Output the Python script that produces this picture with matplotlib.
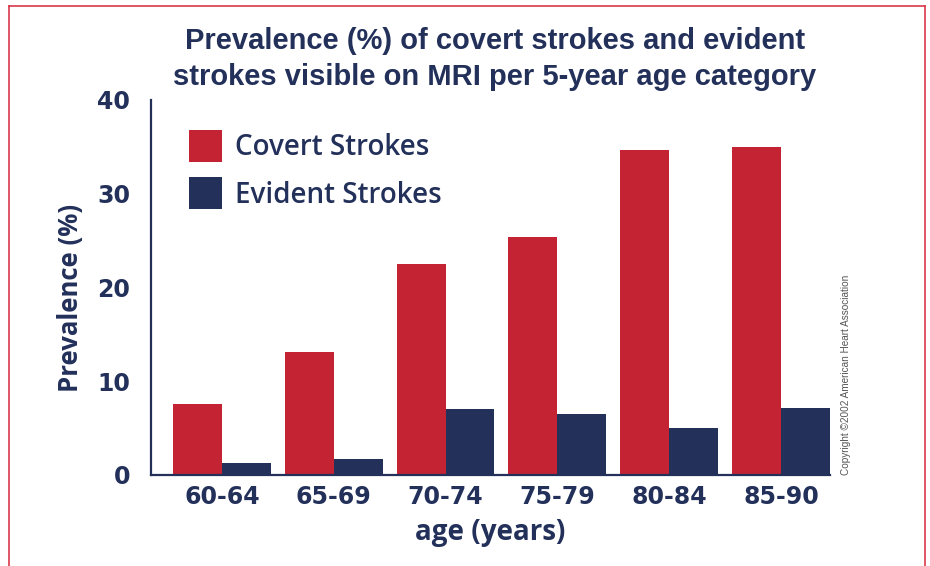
import matplotlib
matplotlib.use("Agg")
import matplotlib.pyplot as plt
import numpy as np
from matplotlib.lines import Line2D
from matplotlib.patches import Patch

age_groups = ["60-64", "65-69", "70-74", "75-79", "80-84", "85-90"]
covert = [7.6, 13.1, 22.5, 25.4, 34.7, 35.0]
evident = [1.3, 1.7, 7.0, 6.5, 5.0, 7.1]

RED = "#C42333"
NAVY = "#22305A"
GEO = "Open Sans"

fig = plt.figure(figsize=(9.3, 5.66), dpi=100)
ax = fig.add_axes([151 / 930, 1 - 475 / 566, (830 - 151) / 930, (475 - 100) / 566])

x = np.arange(len(age_groups))
w = 0.4375
ax.bar(x - w / 2, covert, width=w, color=RED, label="Covert Strokes")
ax.bar(x + w / 2, evident, width=w, color=NAVY, label="Evident Strokes")

ax.set_xlim(-0.634, 5.4375)
ax.set_ylim(0, 40)
ax.set_yticks([0, 10, 20, 30, 40])
ax.set_xticks(x)
ax.set_xticklabels(age_groups)
ax.tick_params(length=0, labelsize=17, labelcolor=NAVY)
ax.tick_params(axis="y", pad=15)
ax.tick_params(axis="x", pad=7)
for lab in ax.get_xticklabels() + ax.get_yticklabels():
    lab.set_fontfamily("DejaVu Sans")
    lab.set_fontweight("bold")

for s in ["top", "right"]:
    ax.spines[s].set_visible(False)
for s in ["left", "bottom"]:
    ax.spines[s].set_color(NAVY)
    ax.spines[s].set_linewidth(1.6)

ax.set_ylabel("Prevalence (%)", fontsize=18.5, fontweight="bold", color=NAVY,
              family=GEO)
ax.yaxis.set_label_coords(-0.098, 0.472)
ax.set_xlabel("age (years)", fontsize=20, fontweight="bold", color=NAVY,
              family=GEO, labelpad=7)

handles = [Patch(facecolor=RED), Patch(facecolor=NAVY)]
leg = ax.legend(handles, ["Covert Strokes", "Evident Strokes"],
                loc="upper left", bbox_to_anchor=(0.040, 0.950), frameon=False,
                prop={"family": GEO, "size": 20, "weight": "semibold"},
                handlelength=1.19, handleheight=1.4,
                handletextpad=0.45, labelspacing=0.55, borderaxespad=0)
for t in leg.get_texts():
    t.set_color(NAVY)

fig.text(0.532, 1 - 59 / 566,
         "Prevalence (%) of covert strokes and evident\n"
         "strokes visible on MRI per 5-year age category",
         ha="center", va="center", fontsize=21, fontweight="bold",
         color=NAVY, family="Liberation Sans", linespacing=1.35)

fig.text(846 / 930, 1 - 375 / 566, "Copyright ©2002 American Heart Association",
         rotation=90, ha="center", va="center", fontsize=7.2, color="#555555",
         family="Liberation Sans")

# thin red frame around the panel
border = dict(color="#D9384A", linewidth=1.2, transform=fig.transFigure)
fig.add_artist(Line2D([9 / 930, 9 / 930], [0, 1 - 6 / 566], **border))
fig.add_artist(Line2D([9 / 930, 925 / 930], [1 - 6 / 566, 1 - 6 / 566], **border))
fig.add_artist(Line2D([925 / 930, 925 / 930], [0, 1 - 6 / 566], **border))

fig.savefig("out.png", dpi=100)
